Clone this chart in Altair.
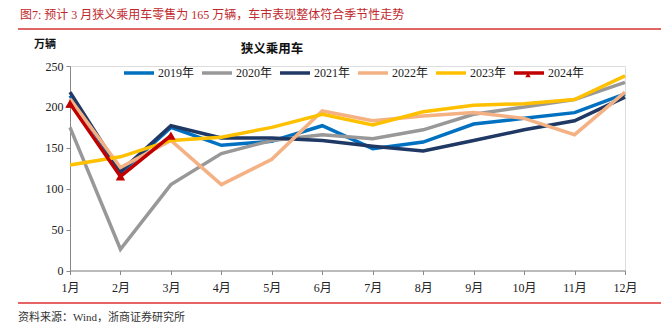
import altair as alt
import pandas as pd

months = ["1月", "2月", "3月", "4月", "5月", "6月", "7月", "8月", "9月", "10月", "11月", "12月"]
years = ["2019年", "2020年", "2021年", "2022年", "2023年", "2024年"]
y2019 = [214, 119, 175, 153, 158, 177, 149, 157, 179, 186, 193, 216]
y2020 = [175, 26, 105, 143, 159, 166, 161, 172, 191, 200, 209, 230]
y2021 = [218, 121, 177, 162, 162, 159, 152, 146, 159, 172, 183, 212]
y2022 = [210, 126, 159, 105, 136, 195, 183, 189, 193, 186, 166, 218]
y2023 = [129, 139, 159, 163, 175, 191, 178, 194, 202, 204, 209, 238]
y2024 = [204, 115, 165]
colors = ["#0070C0", "#989898", "#1F3864", "#F4B183", "#FFC000", "#C00000"]

series = [y2019, y2020, y2021, y2022, y2023, y2024]
rows = []
for yr, vals in zip(years, series):
    for i, v in enumerate(vals):
        rows.append({"month": months[i], "year": yr, "value": v})
df = pd.DataFrame(rows)

SERIF = "Liberation Serif, Times New Roman, Noto Sans CJK SC"

x_enc = alt.X("month:O", sort=months, scale=alt.Scale(type="point", padding=0),
              axis=alt.Axis(title=None, labelAngle=0, labelPadding=8, tickSize=4,
                            domainColor="#888", tickColor="#888", labelFont=SERIF,
                            labelFontSize=12, labelColor="#222"))
y_enc = alt.Y("value:Q", scale=alt.Scale(domain=[0, 250], nice=False),
              axis=alt.Axis(title=None, values=[0, 50, 100, 150, 200, 250], grid=False,
                            tickSize=4, labelPadding=3, domainColor="#888", tickColor="#888",
                            labelFont=SERIF, labelFontSize=12, labelColor="#222"))

lines = alt.Chart(df).mark_line(strokeWidth=3.5).encode(
    x=x_enc, y=y_enc,
    color=alt.Color("year:N", sort=years, scale=alt.Scale(domain=years, range=colors),
                    legend=alt.Legend(title=None, orient="none", direction="horizontal",
                                      legendX=52, legendY=-10, symbolType="stroke",
                                      symbolSize=900, symbolStrokeWidth=3.5,
                                      labelFont=SERIF, labelFontSize=12, labelColor="#222",
                                      labelOffset=2, columnPadding=0)),
    order=alt.Order("month_idx:Q"),
).transform_calculate(month_idx="indexof(%s, datum.month)" % str(months))

pts = alt.Chart(df[df["year"] == "2024年"]).mark_point(
    shape="triangle-up", filled=True, size=90, color="#C00000", opacity=1
).encode(x=alt.X("month:O", sort=months), y="value:Q")

one = pd.DataFrame({"t": [""]})

def txt(s, x, y, size, color="#111", bold=False, align="left", font=SERIF):
    return alt.Chart(pd.DataFrame({"t": [s]})).mark_text(
        align=align, baseline="middle", fontSize=size, color=color,
        fontWeight="bold" if bold else "normal", font=font
    ).encode(text="t:N", x=alt.value(x), y=alt.value(y))

header = txt("图7:   预计 3 月狭义乘用车零售为 165 万辆，车市表现整体符合季节性走势",
             -50, -51, 12, color="#C0282D")
title = txt("狭义乘用车", 202, -17, 12.5, bold=True, align="center")
unit = txt("万辆", -36, -21, 11, bold=True)
source = txt("资料来源：Wind，浙商证券研究所", -52, 252, 11, color="#333")

rule_top = alt.Chart(one).mark_rule(color="#E06666", strokeWidth=2).encode(
    x=alt.value(-52), x2=alt.value(591), y=alt.value(-37))
rule_bot = alt.Chart(one).mark_rule(color="#E03030", strokeWidth=1.5).encode(
    x=alt.value(-52), x2=alt.value(591), y=alt.value(237))

leg_tri = alt.Chart(one).mark_point(shape="triangle-up", filled=True, size=30,
                                    color="#C00000", opacity=1).encode(
    x=alt.value(458), y=alt.value(9))

chart = alt.layer(lines, pts, header, title, unit, source, rule_top, rule_bot, leg_tri).properties(
    width=555, height=204.5,
    autosize=alt.AutoSizeParams(type="none"),
    padding={"left": 70, "top": 66, "right": 36, "bottom": 63},
).configure_view(stroke=None).configure(background="white")

chart.save("out.html", embed_options={"renderer": "svg", "actions": False})
